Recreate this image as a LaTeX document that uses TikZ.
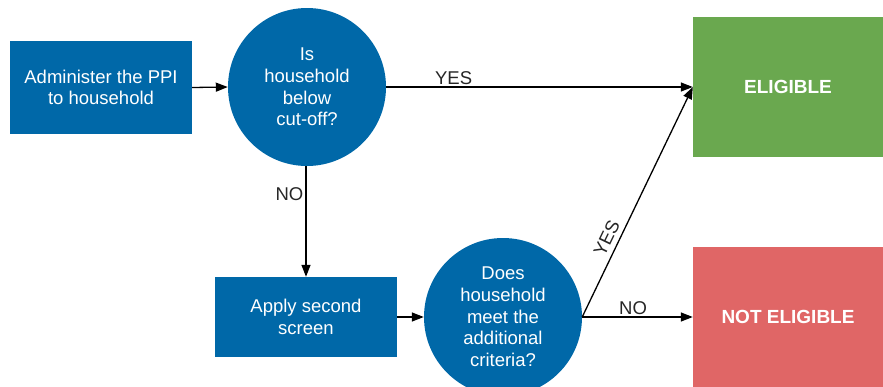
\documentclass[tikz,border=0pt]{standalone}
\usepackage{fontspec}
\setmainfont{Liberation Sans}
\usetikzlibrary{arrows.meta}
\definecolor{ppiblue}{RGB}{0,104,168}
\definecolor{okgreen}{RGB}{106,168,79}
\definecolor{nored}{RGB}{224,102,102}
\tikzset{
  txt/.style={font=\fontsize{18.5}{21.7}\selectfont, text=white, align=center, inner sep=0pt},
  bluebox/.style={txt, fill=ppiblue, minimum width=182pt},
  bluecirc/.style={txt, fill=ppiblue, circle, minimum size=158pt},
  outbox/.style={txt, font=\fontsize{19}{21.7}\selectfont\bfseries, minimum width=190pt, minimum height=140pt},
  conn/.style={line width=1.3pt, -{Triangle[length=12pt,width=9pt]}},
  lbl/.style={font=\fontsize{18.5}{21}\selectfont, text=black!85, inner sep=2pt}
}
\begin{document}
\begin{tikzpicture}[x=1pt,y=-1pt]
\useasboundingbox (0,0) rectangle (883,386);
\begin{scope}
\clip (0,0) rectangle (883,386);
\node[bluebox, minimum height=93pt] (admin) at (101,87.5) {Administer the PPI\\to household};
\node[bluecirc] (q1) at (307,87) {Is\\household\\below\\cut-off?};
\node[outbox, fill=okgreen] (elig) at (788,87) {ELIGIBLE};
\node[bluebox, minimum height=80pt] (second) at (306,317) {Apply second\\screen};
\node[bluecirc] (q2) at (503,317) {Does\\household\\meet the\\additional\\criteria?};
\node[outbox, fill=nored] (notelig) at (788,317) {NOT ELIGIBLE};
\end{scope}
\draw[conn] (admin.east) -- (q1.west);
\draw[conn] (q1.east) -- node[lbl, above, pos=0.22] (yes1) {YES} (elig.west);
\draw[conn] (q1.south -| second.north) -- node[lbl, left, pos=0.25] (no1) {NO} (second.north);
\draw[conn] (second.east) -- (q2.west);
\draw[conn] (q2.east) -- node[lbl, above=3pt, sloped, pos=0.32] (yes2) {YES} (elig.west);
\draw[conn] (q2.east) -- node[lbl, above, pos=0.46] (no2) {NO} (notelig.west);
\end{tikzpicture}
\end{document}
